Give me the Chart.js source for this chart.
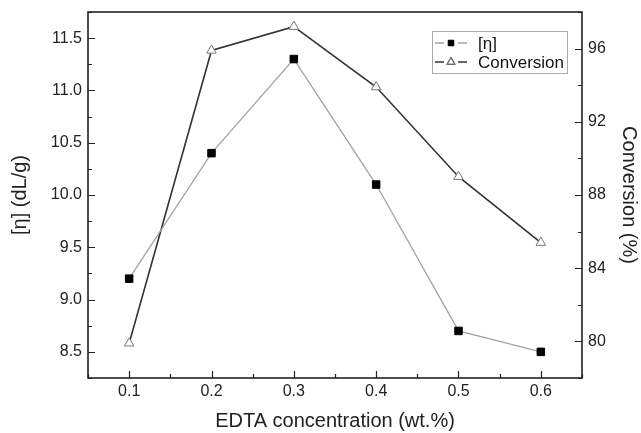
<!DOCTYPE html>
<html>
<head>
<meta charset="utf-8">
<script src="https://cdn.jsdelivr.net/npm/chart.js@4/dist/chart.umd.min.js"></script>
<style>
  html, body { margin: 0; padding: 0; background: #fff; }
  #wrap { width: 641px; height: 433px; }
</style>
</head>
<body>
<div id="wrap"><canvas id="myChart" width="641" height="433"></canvas></div>
<script>
"use strict";

// данные
const edta = [0.1, 0.2, 0.3, 0.4, 0.5, 0.6];          // EDTA concentration (wt.%)
const viscosity = [9.2, 10.4, 11.3, 10.1, 8.7, 8.5];   // [η] (dL/g)
const conversion = [79.9, 95.9, 97.2, 93.9, 89.0, 85.4]; // Conversion (%)

const FONT = '"Liberation Sans", Arial, sans-serif';

// рамка и засечки внутрь графика
const frameTicks = {
    id: 'frameTicks',
    afterDraw(chart) {
        const ctx = chart.ctx;
        const a = chart.chartArea;
        const s = chart.scales;
        ctx.save();
        ctx.strokeStyle = '#222';
        ctx.lineWidth = 1.2;
        ctx.beginPath();
        s.x.ticks.forEach(t => {
            const px = Math.round(s.x.getPixelForValue(t.value)) + 0.5;
            const len = t.label !== '' ? 7 : 4;
            ctx.moveTo(px, a.bottom); ctx.lineTo(px, a.bottom - len);
        });
        s.y.ticks.forEach(t => {
            const py = Math.round(s.y.getPixelForValue(t.value)) + 0.5;
            const len = t.label !== '' ? 7 : 4;
            ctx.moveTo(a.left, py); ctx.lineTo(a.left + len, py);
        });
        s.y2.ticks.forEach(t => {
            const py = Math.round(s.y2.getPixelForValue(t.value)) + 0.5;
            const len = t.label !== '' ? 7 : 4;
            ctx.moveTo(a.right, py); ctx.lineTo(a.right - len, py);
        });
        ctx.stroke();
        ctx.lineWidth = 1.6;
        ctx.strokeRect(a.left, a.top, a.right - a.left, a.bottom - a.top);
        ctx.restore();
    }
};

// легенда как в Origin: линия - маркер - линия
const originLegend = {
    id: 'originLegend',
    afterDraw(chart) {
        const ctx = chart.ctx;
        const a = chart.chartArea;
        const bx = a.right - 150, by = a.top + 19, bw = 135, bh = 42;
        ctx.save();
        ctx.strokeStyle = '#aaa';
        ctx.lineWidth = 1;
        ctx.strokeRect(bx + 0.5, by + 0.5, bw, bh);
        chart.data.datasets.forEach((ds, i) => {
            const y = by + 12 + i * 19;
            const cx = bx + 19;
            ctx.strokeStyle = ds.borderColor;
            ctx.lineWidth = ds.borderWidth;
            ctx.beginPath();
            ctx.moveTo(bx + 3, y); ctx.lineTo(cx - 7, y);
            ctx.moveTo(cx + 7, y); ctx.lineTo(bx + 35, y);
            ctx.stroke();
            Chart.helpers.drawPoint(ctx, {
                pointStyle: ds.pointStyle,
                radius: ds.pointRadius - 1.5,
                borderWidth: ds.pointBorderWidth
            }, cx, y);
            ctx.fillStyle = ds.pointBackgroundColor;
            ctx.strokeStyle = ds.pointBorderColor;
            ctx.lineWidth = ds.pointBorderWidth;
            ctx.fill();
            ctx.stroke();
            ctx.fillStyle = '#111';
            ctx.font = '17px ' + FONT;
            ctx.textBaseline = 'middle';
            ctx.fillText(ds.label, bx + 46, y + 1);
        });
        ctx.restore();
    }
};

// фиксируем размеры осей, чтобы область графика была как на картинке
function fixVertical(width) {
    return s => { s.width = width; s.paddingTop = 0; s.paddingBottom = 0; };
}

const ctx = document.getElementById('myChart');
const myChart = new Chart(ctx, {
    type: 'line',
    data: {
        datasets: [{
            label: '[η]',
            data: edta.map((x, i) => ({x: x, y: viscosity[i]})),
            yAxisID: 'y',
            borderColor: '#a3a3a3',
            borderWidth: 1.3,
            pointStyle: 'rect',
            pointRadius: 5.3,
            pointBackgroundColor: '#000',
            pointBorderColor: '#000',
            pointBorderWidth: 1
        }, {
            label: 'Conversion',
            data: edta.map((x, i) => ({x: x, y: conversion[i]})),
            yAxisID: 'y2',
            borderColor: '#333',
            borderWidth: 1.6,
            pointStyle: 'triangle',
            pointRadius: 5.5,
            pointBackgroundColor: '#fff',
            pointBorderColor: '#777',
            pointBorderWidth: 1
        }]
    },
    options: {
        responsive: false,
        animation: false,
        layout: { padding: { top: 12, left: 0, right: 0, bottom: 0 } },
        plugins: {
            legend: { display: false },
            tooltip: { enabled: false }
        },
        scales: {
            x: {
                type: 'linear',
                position: 'bottom',
                min: 0.05,
                max: 0.65,
                grid: { display: false, drawTicks: false },
                border: { display: false },
                ticks: {
                    stepSize: 0.05,
                    padding: 4,
                    color: '#222',
                    font: { family: FONT, size: 16 },
                    maxRotation: 0,
                    autoSkip: false,
                    callback: v => Math.abs(v * 10 - Math.round(v * 10)) < 1e-6 ? v.toFixed(1) : ''
                },
                title: {
                    display: true,
                    text: 'EDTA concentration (wt.%)',
                    color: '#222',
                    font: { family: FONT, size: 20 },
                    padding: { top: 0, bottom: 0 }
                },
                afterFit: s => { s.height = 55; s.paddingLeft = 0; s.paddingRight = 0; }
            },
            y: {
                position: 'left',
                min: 8.25,
                max: 11.75,
                grid: { display: false, drawTicks: false },
                border: { display: false },
                ticks: {
                    stepSize: 0.25,
                    padding: 6,
                    color: '#222',
                    font: { family: FONT, size: 16 },
                    autoSkip: false,
                    callback: v => Math.abs(v * 2 - Math.round(v * 2)) < 1e-6 ? v.toFixed(1) : ''
                },
                title: {
                    display: true,
                    text: '[η] (dL/g)',
                    color: '#222',
                    font: { family: FONT, size: 20 },
                    padding: { top: 8, bottom: 0 }
                },
                afterFit: fixVertical(88)
            },
            y2: {
                position: 'right',
                min: 78,
                max: 98,
                grid: { display: false, drawTicks: false },
                border: { display: false },
                ticks: {
                    stepSize: 2,
                    padding: 6,
                    color: '#222',
                    font: { family: FONT, size: 16 },
                    autoSkip: false,
                    callback: v => v % 4 === 0 ? String(v) : ''
                },
                title: {
                    display: true,
                    text: 'Conversion (%)',
                    color: '#222',
                    font: { family: FONT, size: 20 },
                    padding: { top: 0, bottom: 0 }
                },
                afterFit: fixVertical(59)
            }
        }
    },
    plugins: [frameTicks, originLegend]
});
</script>
</body>
</html>
